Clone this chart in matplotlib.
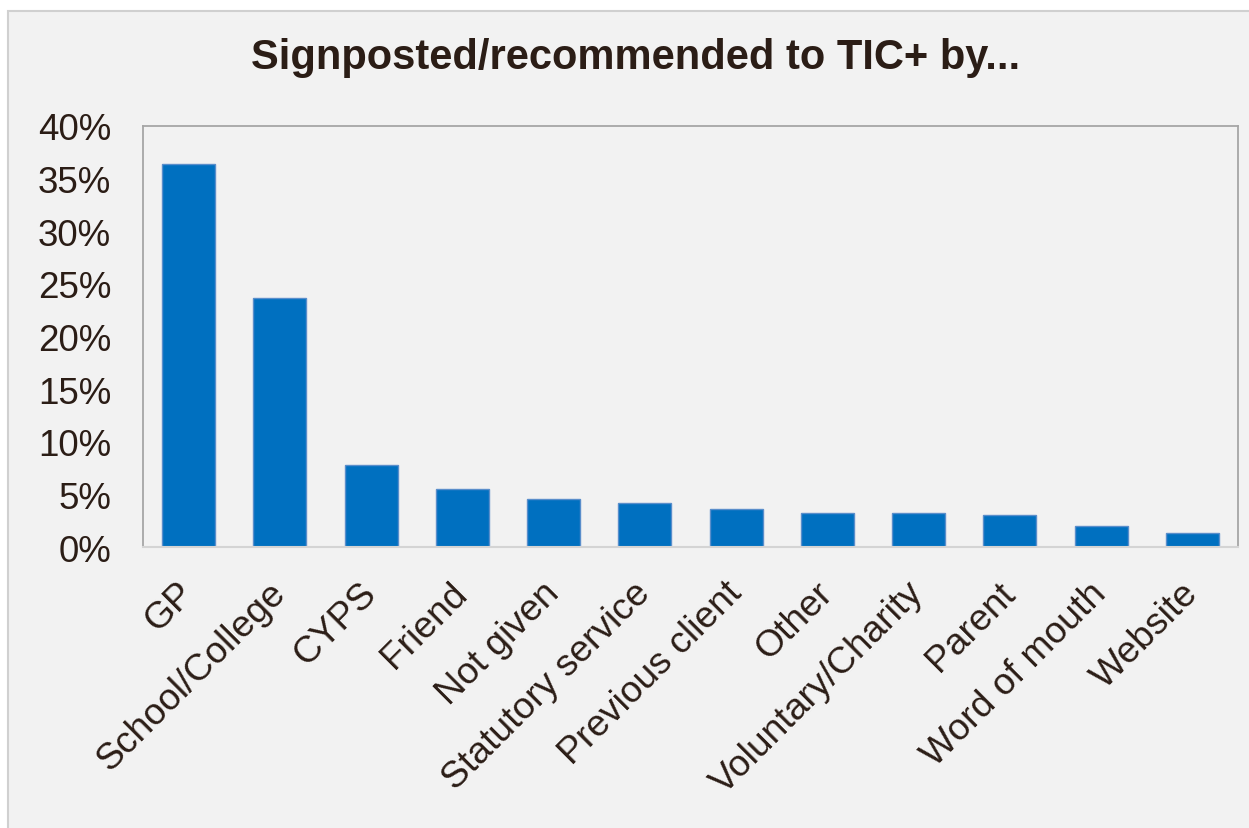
import matplotlib.pyplot as plt
from matplotlib.patches import Rectangle
from matplotlib.ticker import PercentFormatter

categories = ['GP', 'School/College', 'CYPS', 'Friend', 'Not given',
              'Statutory service', 'Previous client', 'Other',
              'Voluntary/Charity', 'Parent', 'Word of mouth', 'Website']
values = [36.4, 23.7, 7.8, 5.5, 4.6, 4.2, 3.6, 3.2, 3.2, 3.0, 2.0, 1.3]
yticks = [0, 5, 10, 15, 20, 25, 30, 35, 40]

text_col = '#2B1D16'
bg = '#F2F2F2'

plt.rcParams['font.family'] = ['Liberation Sans', 'DejaVu Sans']

fig = plt.figure(figsize=(12.49, 8.29), dpi=100, facecolor='white')

# chart area with its light border (behind the axes)
fig.patches.append(Rectangle((8 / 1249, -0.05), 1.2, 1 - 12 / 829 + 0.05,
                             transform=fig.transFigure, facecolor=bg,
                             edgecolor='#D0D0D0', linewidth=1.5, zorder=-10))

ax = fig.add_axes([143 / 1249, 1 - 548 / 829, (1238 - 143) / 1249, (548 - 127) / 829])
ax.set_facecolor(bg)

x = range(len(categories))
ax.bar(x, values, width=0.58, color='#0070C0', edgecolor='#5A8ECB', linewidth=1)

ax.set_xlim(-0.5, len(categories) - 0.5)
ax.set_ylim(0, 40)
ax.set_yticks(yticks)
ax.yaxis.set_major_formatter(PercentFormatter(decimals=0))
ax.tick_params(axis='y', length=0, pad=23, labelsize=26.5, labelcolor=text_col)
ax.tick_params(axis='x', length=0, pad=29, labelsize=26.8, labelcolor=text_col)
ax.set_xticks(list(x))
ax.set_xticklabels(categories, rotation=45, ha='right', va='center',
                   rotation_mode='anchor')

for s in ['left', 'top', 'right']:
    ax.spines[s].set_color('#A6A6A6')
    ax.spines[s].set_linewidth(1.3)
ax.spines['bottom'].set_color('#D4D4D4')
ax.spines['bottom'].set_linewidth(1.5)

fig.text(0.509, 1 - 58 / 829, 'Signposted/recommended to TIC+ by...',
         ha='center', va='center', fontsize=30, fontweight='bold',
         color=text_col)

fig.savefig('out.png', dpi=100, facecolor='white')
